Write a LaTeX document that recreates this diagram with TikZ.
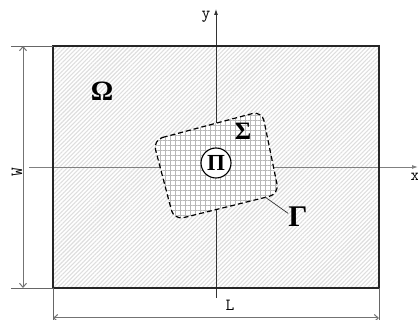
\documentclass[tikz,border=0pt]{standalone}
\usepackage{fontspec}
\setmainfont{Liberation Serif}
\usetikzlibrary{patterns.meta,arrows.meta}
\begin{document}
\begin{tikzpicture}[x=1pt,y=-1pt,
  greek/.style={font=\bfseries\fontsize{#1}{#1}\selectfont, inner sep=0pt},
  dimlbl/.style={font=\ttfamily\fontsize{17}{17}\selectfont, inner sep=0pt},
  dimline/.style={draw=black!55, line width=1pt,
    {Straight Barb[length=4pt,width=7pt]}-{Straight Barb[length=4pt,width=7pt]}},
  extline/.style={draw=black!60, line width=0.7pt},
  axisx/.style={draw=black!50, line width=0.9pt, -{Latex[length=6pt,width=4pt]}},
  axisy/.style={draw=black!80, line width=0.8pt, -{Latex[length=6pt,width=4pt]}},
  border/.style={draw=black!85, line width=1.8pt},
  bound/.style={draw=black, line width=1.2pt, dash pattern=on 5pt off 3pt, rounded corners=10pt},
]
\useasboundingbox (0,0) rectangle (418,320);

% named corners
\coordinate (tl) at (53,46);
\coordinate (br) at (379,288);
\coordinate (bl) at (53,288);
\coordinate (tr) at (379,46);

% domain background
\fill[white] (tl) rectangle (br);
\fill[pattern={Lines[angle=45,distance=3pt,line width=1.1pt]}, pattern color=black!13] (tl) rectangle (br);

% axes
\coordinate (xs) at (29,167);
\coordinate (xe) at (418,167);
\coordinate (ys) at (216,298);
\coordinate (ye) at (216,9);
\draw[axisx] (xs) -- (xe);
\draw[axisy] (ys) -- (ye);
\node[dimlbl] (ylab) at (206,17) {y};
\node[dimlbl] (xlab) at (415,177) {x};

% region Sigma
\coordinate (r1) at (153,140);
\coordinate (r2) at (262,111);
\coordinate (r3) at (279,194);
\coordinate (r4) at (174,220);
\fill[white, rounded corners=10pt] (r1) -- (r2) -- (r3) -- (r4) -- cycle;
\fill[pattern={Hatch[angle=0,distance=5pt,line width=0.8pt]}, pattern color=black!28, rounded corners=10pt] (r1) -- (r2) -- (r3) -- (r4) -- cycle;
\draw[bound] (r1) -- (r2) -- (r3) -- (r4) -- cycle;

% domain border
\draw[border] (tl) rectangle (br);

% labels
\node[greek=28] (omega) at (102,91) {Ω};
\node[greek=25] (sigma) at (243,131) {Σ};
\node[draw=black, line width=1.1pt, fill=white, circle, minimum size=30pt, inner sep=0pt,
      font=\bfseries\fontsize{23}{23}\selectfont] (pi) at (216,163) {Π};
\node[greek=30] (gamma) at (298,217) {Γ};
\coordinate (g1) at (265,197);
\draw[black!80, line width=0.7pt] (g1) -- (gamma.160);

% W dimension
\coordinate (wa) at (11,46);
\coordinate (wb) at (11,288);
\draw[extline] (wa) -- (tl);
\draw[extline] (wb) -- (bl);
\coordinate (w1) at (23,46);
\coordinate (w2) at (23,288);
\draw[dimline] (w1) -- (w2);
\node[dimlbl, rotate=90] (wlab) at (17,172) {W};

% L dimension
\coordinate (la) at (53,320);
\coordinate (lb) at (379,320);
\draw[extline] (bl) -- (la);
\draw[extline] (br) -- (lb);
\coordinate (l1) at (53,318);
\coordinate (l2) at (379,318);
\draw[dimline] (l1) -- (l2);
\node[dimlbl] (llab) at (230,305) {L};
\end{tikzpicture}
\end{document}
